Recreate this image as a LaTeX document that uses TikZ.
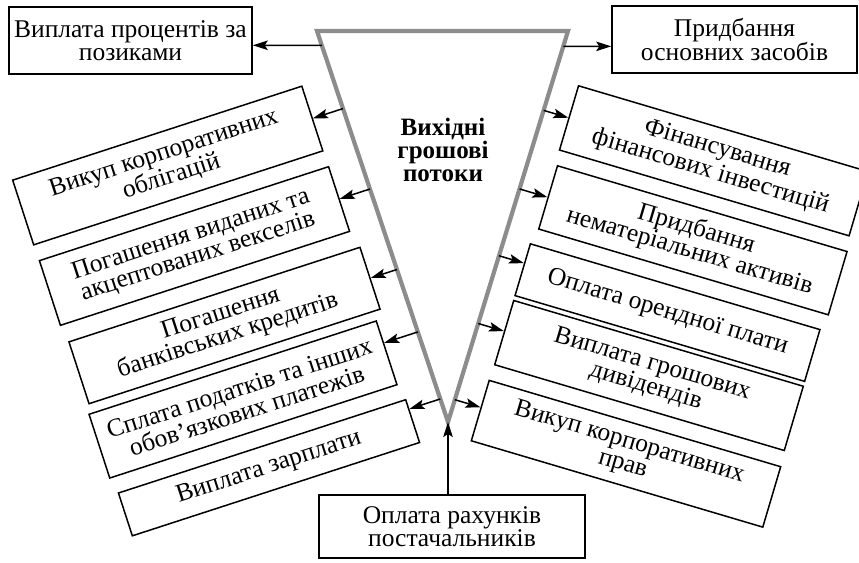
\documentclass[tikz,border=0pt]{standalone}
\usepackage{fontspec}
\setmainfont{Liberation Serif}
\usetikzlibrary{arrows.meta,calc}
\definecolor{trigray}{RGB}{140,140,140}
% #1 box, #2 side (east/west), #3 position along that side, #4--#5 funnel edge
\newcommand\flowarrow[5]{%
  \coordinate (#1p) at ($(#1.north #2)!#3!(#1.south #2)$);
  \coordinate (#1q) at ($(#1p)+(#1.#2)-(#1.center)$);
  \coordinate (#1s) at (intersection of #4--#5 and #1p--#1q);
  \draw[arr] (#1s) -- (#1p);}
\begin{document}
\begin{tikzpicture}[x=1pt,y=-1pt,
  txt/.style={font=\fontsize{25.5}{23}\selectfont, align=center},
  box/.style={txt, draw, line width=1.5pt, inner sep=0pt},
  arr/.style={line width=1.5pt, -{Stealth[length=15pt,width=9.5pt,inset=3pt]}},
  tri/.style={draw=trigray, line width=4.2pt, line join=miter}]
\useasboundingbox (0,0) rectangle (859,562);

% funnel
\coordinate (TL) at (317,31);
\coordinate (TR) at (568,31);
\coordinate (AP) at (448,422);
\draw[tri] (TL) -- (TR) -- (AP) -- cycle;
\node[font=\bfseries\fontsize{25}{23}\selectfont, align=center] (title) at (443,150) {Вихідні\\грошові\\потоки};

% outflow boxes
\node[box, minimum width=243pt, minimum height=67pt] (L1) at (130.5,40.5) {Виплата процентів за\\позиками};
\node[box, minimum width=245pt, minimum height=67pt] (R1) at (734.5,39.5) {Придбання\\основних засобів};
\node[box, rotate=18, minimum width=304pt, minimum height=68pt] (L2) at (167.75,165.5) {Викуп корпоративних\\облігацій};
\node[box, rotate=18, minimum width=304pt, minimum height=68pt] (L3) at (194.5,246) {Погашення виданих та\\акцептованих векселів};
\node[box, rotate=18, minimum width=306pt, minimum height=65pt] (L4) at (224.5,325.5) {Погашення\\банківських кредитів};
\node[box, rotate=18, minimum width=302pt, minimum height=67pt] (L5) at (243,399.5) {Сплата податків та інших\\обов’язкових платежів};
\node[box, rotate=18, minimum width=302pt, minimum height=45pt] (L6) at (269,467.75) {Виплата зарплати};
\node[box, rotate=-16.5, minimum width=302pt, minimum height=67pt] (R2) at (713.8,160.8) {Фінансування\\фінансових інвестицій};
\node[box, rotate=-16.5, minimum width=302pt, minimum height=66pt] (R3) at (692.9,240.3) {Придбання\\нематеріальних активів};
\node[box, rotate=-16.5, minimum width=302pt, minimum height=54pt] (R4) at (667.5,312.6) {Оплата орендної плати};
\node[box, rotate=-16.5, minimum width=302pt, minimum height=67pt] (R5) at (649,375.5) {Виплата грошових\\дивідендів};
\node[box, rotate=-16.5, minimum width=304pt, minimum height=63pt] (R6) at (626,453.75) {Викуп корпоративних\\прав};
\node[box, minimum width=266pt, minimum height=63pt] (B) at (452,526.5) {Оплата рахунків\\постачальників};

% arrows out of the funnel
\flowarrow{L1}{east}{0.57}{TL}{AP}
\flowarrow{L2}{east}{0.5}{TL}{AP}
\flowarrow{L3}{east}{0.5}{TL}{AP}
\flowarrow{L4}{east}{0.5}{TL}{AP}
\flowarrow{L5}{east}{0.35}{TL}{AP}
\flowarrow{L6}{east}{0.23}{TL}{AP}
\flowarrow{R1}{west}{0.6}{TR}{AP}
\flowarrow{R2}{west}{0.5}{TR}{AP}
\flowarrow{R3}{west}{0.5}{TR}{AP}
\flowarrow{R4}{west}{0.38}{TR}{AP}
\flowarrow{R5}{west}{0.48}{TR}{AP}
\flowarrow{R6}{west}{0.45}{TR}{AP}
% supplier payments into the apex
\draw[arr] (B.north -| AP) -- (AP);
\end{tikzpicture}
\end{document}
